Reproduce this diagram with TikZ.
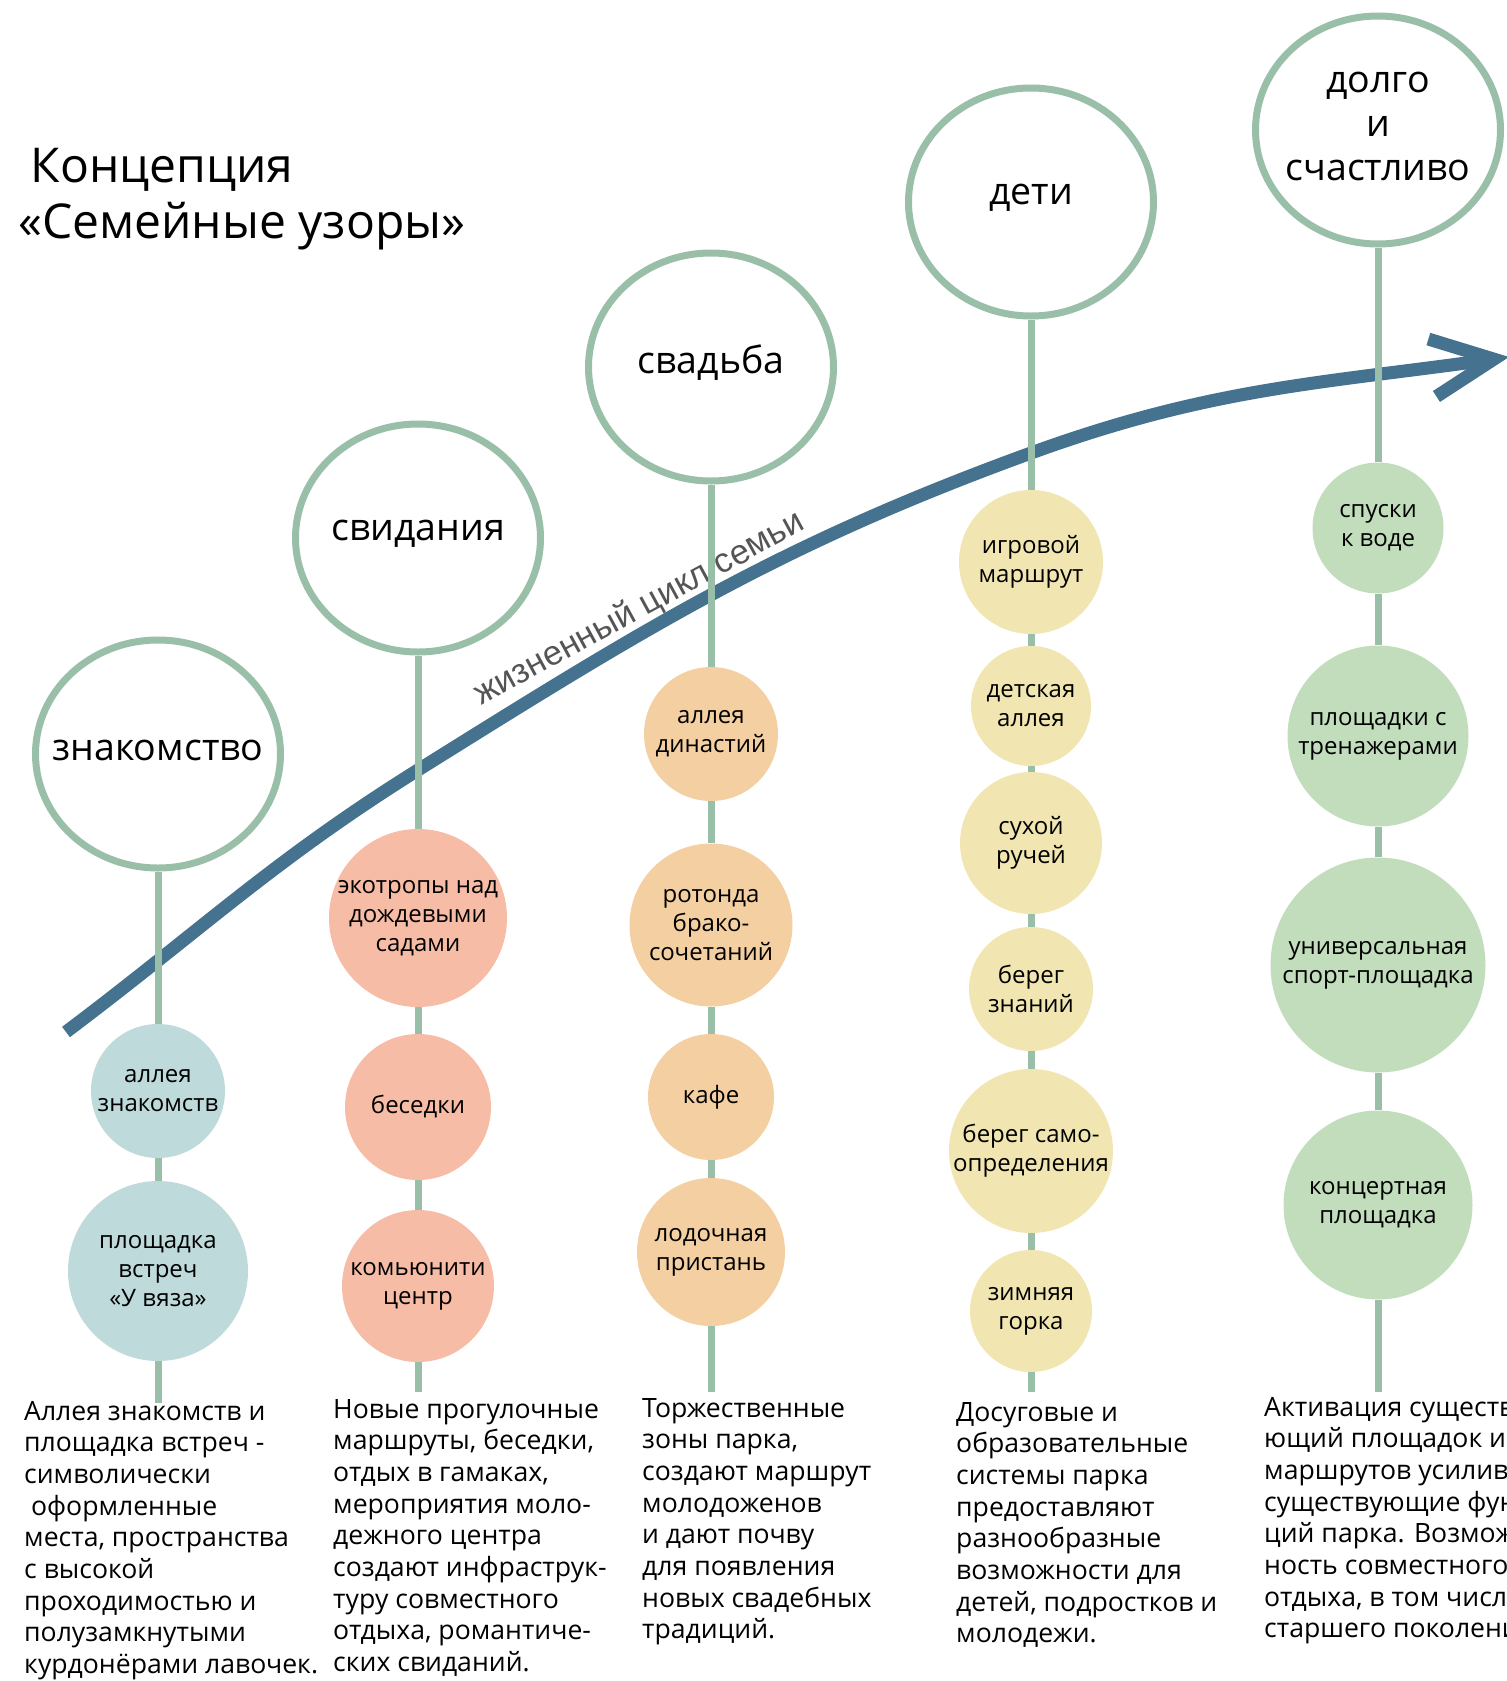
\documentclass[tikz,border=0pt]{standalone}
\usepackage{fontspec}
\setmainfont{Open Sans}
\newfontfamily\cyclefont{Liberation Sans}
\usetikzlibrary{shapes.geometric,arrows.meta}

\definecolor{ring}{HTML}{9ABFA9}
\definecolor{life}{HTML}{44728F}
\definecolor{lifetext}{HTML}{555555}
\definecolor{meetfill}{HTML}{BFDADB}
\definecolor{datefill}{HTML}{F7BCA6}
\definecolor{weddingfill}{HTML}{F3CFA1}
\definecolor{kidsfill}{HTML}{F1E6B1}
\definecolor{longfill}{HTML}{C1DDBC}

\tikzstyle{stage} = [ellipse, minimum width=245pt, minimum height=228pt, draw=ring, line width=7pt, fill=white]
\tikzstyle{stagetext} = [align=center, yshift=4pt, font=\fontsize{37.5}{44}\selectfont]
\tikzstyle{spot} = [circle, inner sep=0pt, align=center, font=\fontsize{24}{29}\selectfont]
\tikzstyle{stem} = [draw=ring, line width=7pt]
\tikzstyle{note} = [anchor=base west, align=left, inner sep=0pt, font=\fontsize{26.6}{31.7}\selectfont]
\tikzstyle{lifeline} = [draw=life, line width=13pt, -{Straight Barb[length=62pt, width=58pt]}]

\begin{document}
\begin{tikzpicture}[x=1pt, y=-1pt]

  \useasboundingbox (0,0) rectangle (1507,1681);

  \node (title) [anchor=base west, align=left, inner sep=0pt, font=\fontsize{48}{56}\selectfont] at (18,238) {\hspace*{0.26em}Концепция\\«Семейные узоры»};

  % --- %

  \coordinate (l0) at (66,1032);
  \coordinate (l1) at (418,770);
  \coordinate (l2) at (1031,453);
  \coordinate (l3) at (1509,357);

  \draw [lifeline] (l0) to[out=37,in=-148] (l1) to[out=32,in=-160] (l2) to[out=20,in=-172] (l3);
  \node (cycle) [rotate=28.5, anchor=base, text=lifetext, font=\cyclefont\fontsize{34.5}{40}\selectfont] at (644,617) {жизненный цикл семьи};

  % --- %

  \node (s1) [stage, label={[stagetext]center:знакомство}] at (158,754) {};
  \node (k11) [spot, fill=meetfill, minimum size=134pt] at (158,1091) {аллея\\знакомств};
  \node (k12) [spot, fill=meetfill, minimum size=180pt] at (158,1271) {площадка\\встреч\\«У вяза»};
  \coordinate (e1) at (158,1403);

  \node (s2) [stage, label={[stagetext]center:свидания}] at (418,538) {};
  \node (k21) [spot, fill=datefill, minimum size=178pt] at (418,918) {экотропы над\\дождевыми\\садами};
  \node (k22) [spot, fill=datefill, minimum size=146pt] at (418,1107) {беседки};
  \node (k23) [spot, fill=datefill, minimum size=152pt] at (418,1286) {комьюнити\\центр};
  \coordinate (e2) at (418,1392);

  \node (s3) [stage, label={[stagetext]center:свадьба}] at (711,367) {};
  \node (k31) [spot, fill=weddingfill, minimum size=134pt] at (711,734) {аллея\\династий};
  \node (k32) [spot, fill=weddingfill, minimum size=163pt] at (711,925) {ротонда\\брако-\\сочетаний};
  \node (k33) [spot, fill=weddingfill, minimum size=126pt] at (711,1097) {кафе};
  \node (k34) [spot, fill=weddingfill, minimum size=148pt] at (711,1252) {лодочная\\пристань};
  \coordinate (e3) at (711,1392);

  \node (s4) [stage, label={[stagetext]center:дети}] at (1031,202) {};
  \node (k41) [spot, fill=kidsfill, minimum size=144pt] at (1031,562) {игровой\\маршрут};
  \node (k42) [spot, fill=kidsfill, minimum size=120pt] at (1031,706) {детская\\аллея};
  \node (k43) [spot, fill=kidsfill, minimum size=142pt] at (1031,843) {сухой\\ручей};
  \node (k44) [spot, fill=kidsfill, minimum size=124pt] at (1031,989) {берег\\знаний};
  \node (k45) [spot, fill=kidsfill, minimum size=162pt] at (1031,1151) {берег само-\\определения};
  \node (k46) [spot, fill=kidsfill, minimum size=122pt] at (1031,1311) {зимняя\\горка};
  \coordinate (e4) at (1031,1392);

  \node (s5) [stage, label={[stagetext]center:{долго\\и\\счастливо}}] at (1378,130) {};
  \node (k51) [spot, fill=longfill, minimum size=131pt] at (1378,528) {спуски\\к воде};
  \node (k52) [spot, fill=longfill, minimum size=181pt] at (1378,736) {площадки с\\тренажерами};
  \node (k53) [spot, fill=longfill, minimum size=215pt] at (1378,965) {универсальная\\спорт-площадка};
  \node (k54) [spot, fill=longfill, minimum size=189pt] at (1378,1205) {концертная\\площадка};
  \coordinate (e5) at (1378,1392);

  % --- %

  \draw [stem] (s1) -- (k11);
  \draw [stem] (k11) -- (k12);
  \draw [stem] (k12) -- (e1);

  \draw [stem] (s2) -- (k21);
  \draw [stem] (k21) -- (k22);
  \draw [stem] (k22) -- (k23);
  \draw [stem] (k23) -- (e2);

  \draw [stem] (s3) -- (k31);
  \draw [stem] (k31) -- (k32);
  \draw [stem] (k32) -- (k33);
  \draw [stem] (k33) -- (k34);
  \draw [stem] (k34) -- (e3);

  \draw [stem] (s4) -- (k41);
  \draw [stem] (k41) -- (k42);
  \draw [stem] (k42) -- (k43);
  \draw [stem] (k43) -- (k44);
  \draw [stem] (k44) -- (k45);
  \draw [stem] (k45) -- (k46);
  \draw [stem] (k46) -- (e4);

  \draw [stem] (s5) -- (k51);
  \draw [stem] (k51) -- (k52);
  \draw [stem] (k52) -- (k53);
  \draw [stem] (k53) -- (k54);
  \draw [stem] (k54) -- (e5);

  % --- %

  \node (n1) [note] at (24,1673.6) {Аллея знакомств и\\площадка встреч -\\символически\\\hspace*{0.26em}оформленные\\места, пространства\\с высокой\\проходимостью и\\полузамкнутыми\\курдонёрами лавочек.};
  \node (n2) [note] at (333,1671.6) {Новые прогулочные\\маршруты, беседки,\\отдых в гамаках,\\мероприятия моло-\\дежного центра\\создают инфраструк-\\туру совместного\\отдыха, романтиче-\\ских свиданий.};
  \node (n3) [note] at (642,1638.9) {Торжественные\\зоны парка,\\создают маршрут\\молодоженов\\и дают почву\\для появления\\новых свадебных\\традиций.};
  \node (n4) [note] at (956,1642.9) {Досуговые и\\образовательные\\системы парка\\предоставляют\\разнообразные\\возможности для\\детей, подростков и\\молодежи.};
  \node (n5) [note] at (1264,1637.9) {Активация существу-\\ющий площадок и\\маршрутов усиливает\\существующие функ-\\ций парка. Возмож-\\ность совместного\\отдыха, в том числе\\старшего поколения.};

\end{tikzpicture}
\end{document}
